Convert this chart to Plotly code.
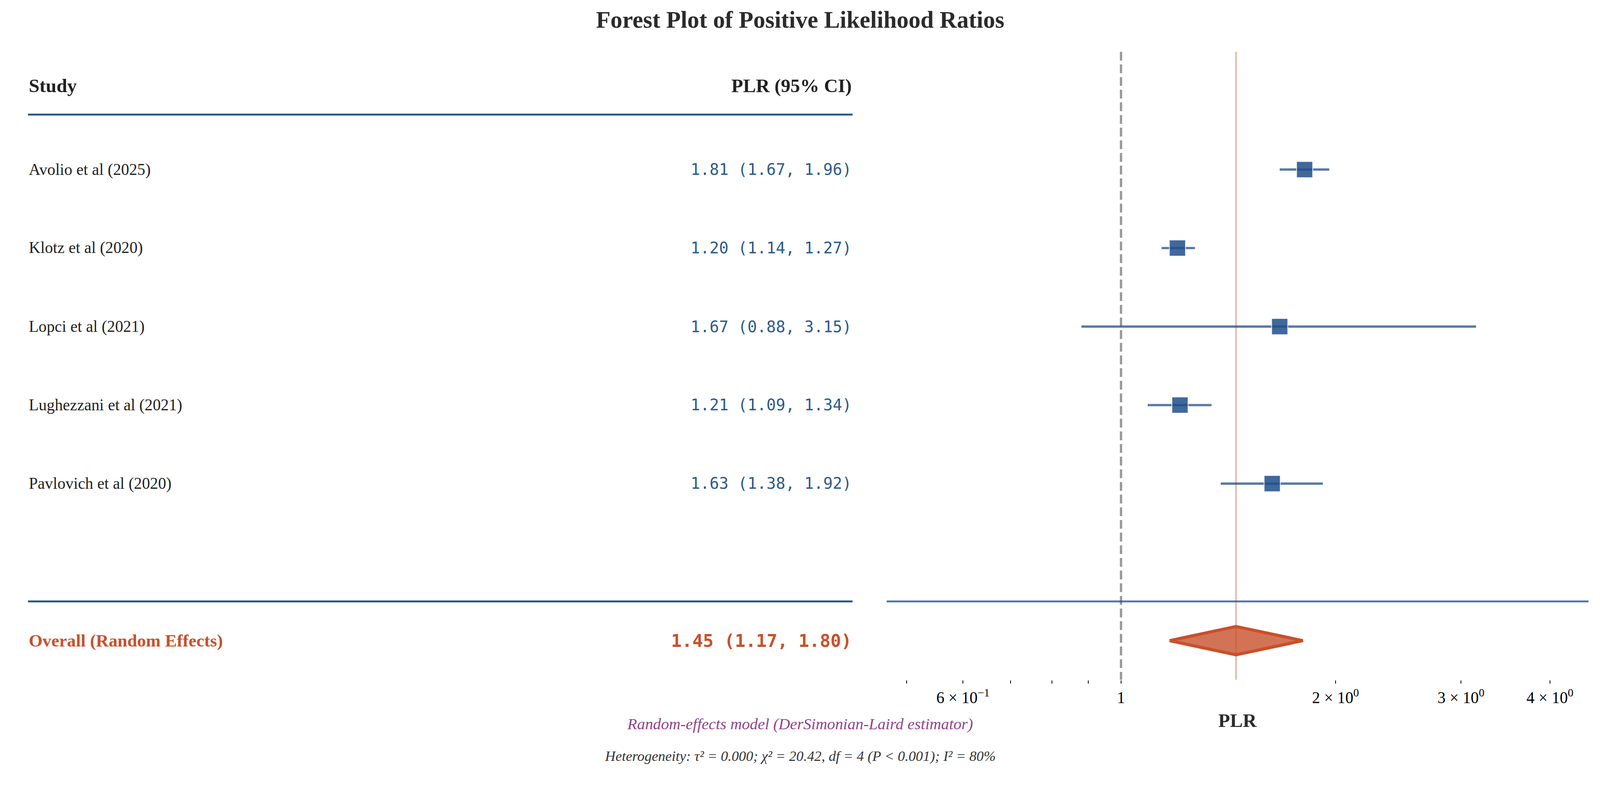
import numpy as np
import plotly.graph_objects as go

# Data
studies = [
    "Avolio et al (2025)",
    "Klotz et al (2020)",
    "Lopci et al (2021)",
    "Lughezzani et al (2021)",
    "Pavlovich et al (2020)",
]
plr = [1.81, 1.20, 1.67, 1.21, 1.63]
ci_low = [1.67, 1.14, 0.88, 1.09, 1.38]
ci_high = [1.96, 1.27, 3.15, 1.34, 1.92]

overall_plr = 1.45
overall_low = 1.17
overall_high = 1.80

tick_vals = [0.6, 1, 2, 3, 4]
tick_text = [
    "6 × 10<sup>−1</sup>",
    "1",
    "2 × 10<sup>0</sup>",
    "3 × 10<sup>0</sup>",
    "4 × 10<sup>0</sup>",
]
minor_vals = [0.5, 0.7, 0.8, 0.9]

title_text = "Forest Plot of Positive Likelihood Ratios"
model_text = "Random-effects model (DerSimonian-Laird estimator)"
het_text = "Heterogeneity: τ² = 0.000; χ² = 20.42, df = 4 (P < 0.001); I² = 80%"

# Style
W, H = 4170, 2021
SERIF = "Liberation Serif, Times New Roman, serif"
MONO = "DejaVu Sans Mono, monospace"
BLUE = "#2c5a8c"
BLUE_BASE = "31,78,137"
ORANGE = "#c8502a"
DARK = "#222222"
PURPLE = "#8e448e"

rows = list(range(len(studies)))
overall_row = len(studies) + 1
sep_row = len(studies) + 0.5
header_row = -1.07
header_line_row = -0.7
y_top, y_bot = -1.5, overall_row + 0.5

left_x0 = 73 / W
left_x1 = 2222 / W


def py(px):
    """figure pixel (from top) -> paper coords (margins are 0)"""
    return 1 - px / H


fig = go.Figure()

# reference lines
fig.add_trace(
    go.Scatter(
        x=[1, 1],
        y=[y_top, y_bot],
        mode="lines",
        line=dict(color="#999999", width=6, dash="23px,10px"),
        hoverinfo="skip",
    )
)
fig.add_trace(
    go.Scatter(
        x=[overall_plr, overall_plr],
        y=[y_top, y_bot],
        mode="lines",
        line=dict(color="rgba(200,80,42,0.42)", width=4),
        hoverinfo="skip",
    )
)

# CI lines
for i in rows:
    fig.add_trace(
        go.Scatter(
            x=[ci_low[i], ci_high[i]],
            y=[i, i],
            mode="lines",
            line=dict(color=f"rgba({BLUE_BASE},0.75)", width=6),
            hoverinfo="skip",
        )
    )

# Study squares
fig.add_trace(
    go.Scatter(
        x=plr,
        y=rows,
        mode="markers",
        marker=dict(
            symbol="square",
            size=42,
            color=f"rgba({BLUE_BASE},0.85)",
            line=dict(color="rgba(255,255,255,0.85)", width=2),
        ),
        customdata=np.stack([ci_low, ci_high], axis=1),
        hovertemplate="PLR %{x:.2f} (%{customdata[0]:.2f}, %{customdata[1]:.2f})<extra></extra>",
    )
)

# Overall diamond
dh = 0.18
fig.add_trace(
    go.Scatter(
        x=[overall_low, overall_plr, overall_high, overall_plr, overall_low],
        y=[overall_row, overall_row - dh, overall_row, overall_row + dh, overall_row],
        mode="lines",
        fill="toself",
        fillcolor="rgba(200,80,42,0.8)",
        line=dict(color=ORANGE, width=8),
        hoverinfo="skip",
    )
)

annotations = []
shapes = []

# Left table
annotations.append(dict(text="<b>Study</b>", x=left_x0, xanchor="left", y=header_row,
                        font=dict(family=SERIF, size=50, color=DARK)))
annotations.append(dict(text="<b>PLR (95% CI)</b>", x=left_x1, xanchor="right", y=header_row,
                        font=dict(family=SERIF, size=50, color=DARK)))
for i in rows:
    annotations.append(dict(text=studies[i], x=left_x0, xanchor="left", y=i,
                            font=dict(family=SERIF, size=42, color=DARK)))
    annotations.append(dict(text=f"{plr[i]:.2f} ({ci_low[i]:.2f}, {ci_high[i]:.2f})",
                            x=left_x1, xanchor="right", y=i,
                            font=dict(family=MONO, size=41, color=BLUE)))
annotations.append(dict(text="<b>Overall (Random Effects)</b>", x=left_x0, xanchor="left", y=overall_row,
                        font=dict(family=SERIF, size=46, color=ORANGE)))
annotations.append(dict(text=f"<b>{overall_plr:.2f} ({overall_low:.2f}, {overall_high:.2f})</b>",
                        x=left_x1, xanchor="right", y=overall_row,
                        font=dict(family=MONO, size=46, color=ORANGE)))
for a in annotations:
    a.update(xref="paper", yref="y", yanchor="middle", showarrow=False)

shapes.append(dict(type="line", xref="paper", yref="y", x0=left_x0, x1=left_x1,
                   y0=header_line_row, y1=header_line_row, line=dict(color=BLUE, width=5)))
shapes.append(dict(type="line", xref="paper", yref="y", x0=left_x0, x1=left_x1,
                   y0=sep_row, y1=sep_row, line=dict(color=BLUE, width=5)))
shapes.append(dict(type="line", xref="x domain", yref="y", x0=0, x1=1,
                   y0=sep_row, y1=sep_row, line=dict(color=f"rgba({BLUE_BASE},0.75)", width=5)))
# longer major tick at 1
shapes.append(dict(type="line", xref="x", yref="y domain", x0=0, x1=0,
                   y0=0, y1=-17 / 1638, line=dict(color="black", width=2)))

# Title, axis label, footers
annotations.append(dict(text=f"<b>{title_text}</b>", xref="paper", yref="paper", x=0.5, y=py(51),
                        xanchor="center", yanchor="middle", showarrow=False,
                        font=dict(family=SERIF, size=62, color="#2b2b2b")))
annotations.append(dict(text="<b>PLR</b>", xref="x domain", yref="paper", x=0.5, y=py(1879),
                        xanchor="center", yanchor="middle", showarrow=False,
                        font=dict(family=SERIF, size=50, color="#2b2b2b")))
annotations.append(dict(text=f"<i>{model_text}</i>", xref="paper", yref="paper", x=0.5, y=py(1888),
                        xanchor="center", yanchor="middle", showarrow=False,
                        font=dict(family=SERIF, size=41.5, color=PURPLE)))
annotations.append(dict(text=f"<i>{het_text}</i>", xref="paper", yref="paper", x=0.5, y=py(1972),
                        xanchor="center", yanchor="middle", showarrow=False,
                        font=dict(family=SERIF, size=37.5, color="#333333")))

fig.update_layout(
    width=W,
    height=H,
    margin=dict(l=0, r=0, t=0, b=0),
    paper_bgcolor="white",
    plot_bgcolor="white",
    showlegend=False,
    annotations=annotations,
    shapes=shapes,
    xaxis=dict(
        type="log",
        range=[np.log10(0.469), np.log10(4.53)],
        domain=[2311 / W, 4140 / W],
        showgrid=False,
        zeroline=False,
        showline=False,
        ticks="outside",
        ticklen=9,
        tickwidth=2,
        tickcolor="black",
        tickmode="array",
        tickvals=tick_vals,
        ticktext=tick_text,
        tickfont=dict(family=SERIF, size=42, color="black"),
        minor=dict(
            tickmode="array",
            tickvals=minor_vals,
            ticks="outside",
            ticklen=9,
            tickwidth=2,
            tickcolor="black",
            showgrid=False,
        ),
    ),
    yaxis=dict(
        range=[y_bot, y_top],
        domain=[py(1773), py(135)],
        visible=False,
    ),
)

# scale the fixed-size figure to the real browser viewport width
fit_js = """
document.documentElement.style.overflow = 'hidden';
document.body.style.overflow = 'hidden';
document.body.style.margin = '0';
var gd = document.getElementById('{plot_id}');
var s = window.innerWidth / %d;
gd.style.transformOrigin = '0 0';
gd.style.transform = 'scale(' + s + ')';
""" % W

fig.write_html("out.html", config={"displayModeBar": False}, post_script=fit_js)
